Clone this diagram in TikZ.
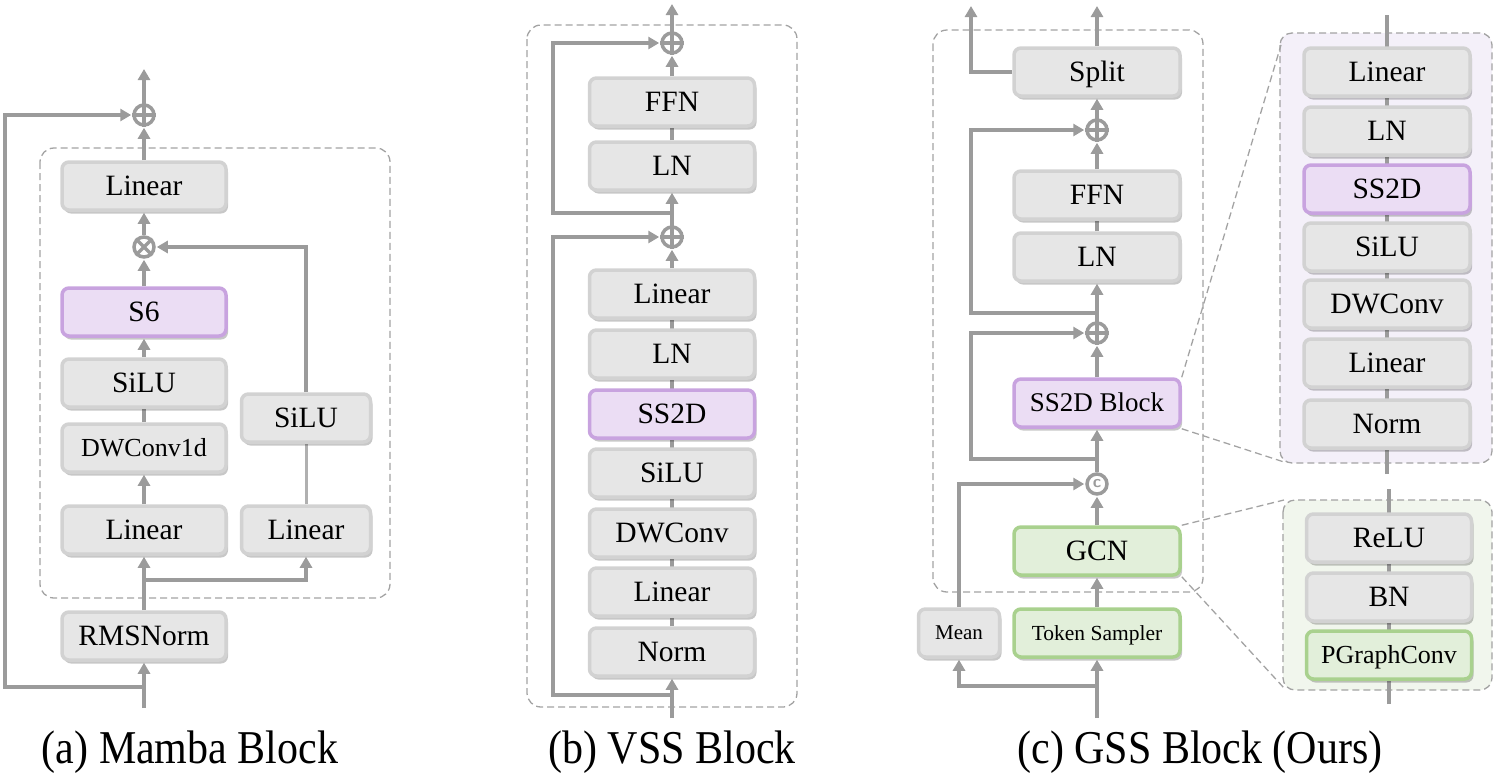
\documentclass[tikz,border=0pt]{standalone}
\usepackage{fontspec}
\setmainfont{Liberation Serif}
\usetikzlibrary{arrows.meta,shadows,calc}
\definecolor{boxfill}{HTML}{E6E6E6}
\definecolor{boxedge}{HTML}{D2D2D2}
\definecolor{purfill}{HTML}{EBDDF4}
\definecolor{puredge}{HTML}{C8A3DF}
\definecolor{grnfill}{HTML}{E2EFDA}
\definecolor{grnedge}{HTML}{A9D18E}
\definecolor{arrowc}{HTML}{9B9B9B}
\definecolor{arrowlt}{HTML}{B0B0B0}
\definecolor{dashc}{HTML}{A3A3A3}
\definecolor{purpanel}{HTML}{F4F0F9}
\definecolor{grnpanel}{HTML}{F1F6ED}
\pgfdeclarelayer{panel}
\pgfdeclarelayer{back}
\pgfsetlayers{panel,back,main}
\begin{document}
\begin{tikzpicture}[x=1pt,y=-1pt,
  blk/.style={draw=boxedge, fill=boxfill, line width=3.5pt, rounded corners=7pt,
    minimum width=164pt, minimum height=48pt, inner sep=0pt,
    font=\fontsize{29.5}{30}\selectfont, text height=19.5pt, text depth=0pt,
    drop shadow={shadow xshift=2pt,shadow yshift=-3.5pt,fill=black,opacity=0.22}},
  pblk/.style={blk, draw=puredge, fill=purfill},
  gblk/.style={blk, draw=grnedge, fill=grnfill},
  arr/.style={draw=arrowc, line width=4pt, -{Triangle[length=11pt,width=12pt]}, shorten >=1pt},
  ln/.style={draw=arrowc, line width=4pt},
  lnlt/.style={draw=arrowlt, line width=3pt},
  sumc/.style={circle, draw=arrowc, line width=3.5pt, minimum size=20pt, inner sep=0pt, fill=white},
  dbox/.style={draw=dashc, line width=1.3pt, dash pattern=on 7pt off 4pt, rounded corners=14pt},
  zline/.style={draw=dashc, line width=1.3pt, dash pattern=on 7pt off 4pt},
  captxt/.style={anchor=base, font=\fontsize{42}{44}\selectfont, inner sep=0pt}
]
\useasboundingbox (0,0) rectangle (1494,777);

% ================= (a) Mamba Block =================
\node[blk] (aLin2) at (144,186) {Linear};
\node[pblk] (aS6) at (144,312) {S6};
\node[blk] (aSiLU1) at (144,383) {SiLU};
\node[blk, font=\fontsize{26}{28}\selectfont, text height=17.2pt] (aDW) at (144,448) {DWConv1d};
\node[blk] (aLin1) at (144,530) {Linear};
\node[blk, minimum width=129pt] (aSiLU2) at (306,418) {SiLU};
\node[blk, minimum width=129pt] (aLin3) at (306,530) {Linear};
\node[blk] (aRMS) at (144,636) {RMSNorm};
\node[sumc] (aAdd) at (144,115) {};
\node[sumc] (aMul) at (144,247) {};
\coordinate (aOut) at (144,68);
\coordinate (aIn) at (144,708);
\coordinate (aJ) at (144,687);
\coordinate (aL) at (5,0);
\coordinate (aBr) at (144,580);

\begin{pgfonlayer}{panel}
\draw[dbox] (40,148) rectangle (390,598);
\end{pgfonlayer}
\begin{pgfonlayer}{back}
\draw[arr] (aIn) -- (aRMS.south);
\draw[arr] (aJ) -- (aJ -| aL) |- (aAdd.west);
\draw[arr] (aRMS.north) -- (aLin1.south);
\draw[arr] (aBr) -| (aLin3.south);
\draw[arr] (aLin1.north) -- (aDW.south);
\draw[ln] (aDW.north) -- (aSiLU1.south);
\draw[arr] (aSiLU1.north) -- (aS6.south);
\draw[arr] (aS6.north) -- (aMul.south);
\draw[arr] (aMul.north) -- (aLin2.south);
\draw[arr] (aLin2.north) -- (aAdd.south);
\draw[arr] (aAdd.north) -- (aOut);
\draw[lnlt] (aLin3.north) -- (aSiLU2.south);
\draw[arr] (aSiLU2.north) |- (aMul.east);
\end{pgfonlayer}
\draw[ln, line width=3.2pt] (aAdd.north) -- (aAdd.south) (aAdd.west) -- (aAdd.east);
\draw[ln, line width=3.2pt] (aMul.north west) -- (aMul.south east) (aMul.north east) -- (aMul.south west);

\node[captxt] (capA) at (190,763) {\scalebox{1}[1.12]{(a) Mamba Block}};

% ================= (b) VSS Block =================
\node[sumc] (bAdd1) at (672,43) {};
\node[blk, minimum width=165pt] (bFFN) at (672,102) {FFN};
\node[blk, minimum width=165pt] (bLN1) at (672,166) {LN};
\node[sumc] (bAdd2) at (672,237) {};
\node[blk, minimum width=165pt] (bLin2) at (672,294) {Linear};
\node[blk, minimum width=165pt] (bLN2) at (672,354) {LN};
\node[pblk, minimum width=165pt] (bSS) at (672,414) {SS2D};
\node[blk, minimum width=165pt] (bSiLU) at (672,473) {SiLU};
\node[blk, minimum width=165pt] (bDW) at (672,533) {DWConv};
\node[blk, minimum width=165pt] (bLin1) at (672,592) {Linear};
\node[blk, minimum width=165pt] (bNorm) at (672,652) {Norm};
\coordinate (bOut) at (672,3);
\coordinate (bIn) at (672,718);
\coordinate (bJ1) at (672,213);
\coordinate (bJ2) at (672,695);
\coordinate (bL) at (553,0);

\begin{pgfonlayer}{panel}
\draw[dbox] (527,25) rectangle (797,707);
\end{pgfonlayer}
\begin{pgfonlayer}{back}
\draw[arr] (bIn) -- (bNorm.south);
\draw[arr] (bJ2) -- (bJ2 -| bL) |- (bAdd2.west);
\draw[ln] (bNorm.north) -- (bLin2.south);
\draw[arr] (bLin2.north) -- (bAdd2.south);
\draw[arr] (bAdd2.north) -- (bLN1.south);
\draw[arr] (bJ1) -- (bJ1 -| bL) |- (bAdd1.west);
\draw[ln] (bLN1.north) -- (bFFN.south);
\draw[arr] (bFFN.north) -- (bAdd1.south);
\draw[arr] (bAdd1.north) -- (bOut);
\end{pgfonlayer}
\draw[ln, line width=3.2pt] (bAdd1.north) -- (bAdd1.south) (bAdd1.west) -- (bAdd1.east);
\draw[ln, line width=3.2pt] (bAdd2.north) -- (bAdd2.south) (bAdd2.west) -- (bAdd2.east);

\node[captxt] (capB) at (672,763) {\scalebox{1}[1.12]{(b) VSS Block}};

% ================= (c) GSS Block =================
\node[blk, minimum width=166pt] (cSplit) at (1097,72) {Split};
\node[sumc] (cAdd1) at (1097,130) {};
\node[blk, minimum width=166pt] (cFFN) at (1097,195) {FFN};
\node[blk, minimum width=166pt] (cLN) at (1097,257) {LN};
\node[sumc] (cAdd2) at (1097,333) {};
\node[pblk, minimum width=166pt, font=\fontsize{27}{28}\selectfont, text height=17.9pt] (cSSB) at (1097,403) {SS2D Block};
\node[sumc, text=arrowc, font=\sffamily\bfseries\fontsize{17}{17}\selectfont] (cCat) at (1097,484) {c};
\node[gblk, minimum width=166pt] (cGCN) at (1097,551) {GCN};
\node[gblk, minimum width=166pt, font=\fontsize{21.5}{22}\selectfont, text height=14.2pt] (cTS) at (1097,633) {Token Sampler};
\node[blk, minimum width=81pt, font=\fontsize{21}{22}\selectfont, text height=13.9pt] (cMean) at (959,633) {Mean};
\coordinate (cOut1) at (1097,5);
\coordinate (cOut2) at (971,5);
\coordinate (cJ1) at (1097,313);
\coordinate (cJ2) at (1097,459);
\coordinate (cJ3) at (1097,686);
\coordinate (cIn) at (1097,718);
\coordinate (cL) at (971,0);

% ---- expanded panels ----
\node[blk, minimum width=166pt] (dLin2) at (1387,72) {Linear};
\node[blk, minimum width=166pt] (dLN) at (1387,131) {LN};
\node[pblk, minimum width=166pt] (dSS) at (1387,189) {SS2D};
\node[blk, minimum width=166pt] (dSiLU) at (1387,247) {SiLU};
\node[blk, minimum width=166pt] (dDW) at (1387,304) {DWConv};
\node[blk, minimum width=166pt] (dLin1) at (1387,363) {Linear};
\node[blk, minimum width=166pt] (dNorm) at (1387,424) {Norm};
\coordinate (dTop) at (1387,15);
\coordinate (dBot) at (1387,474);

\node[blk, minimum width=165pt] (eReLU) at (1389,538) {ReLU};
\node[blk, minimum width=165pt] (eBN) at (1389,597) {BN};
\node[gblk, minimum width=165pt, font=\fontsize{26}{28}\selectfont, text height=17.2pt] (ePG) at (1389,655) {PGraphConv};
\coordinate (eTop) at (1389,489);
\coordinate (eBot) at (1389,704);

\coordinate (pTL) at (1281,45);
\coordinate (pBL) at (1284,462);
\coordinate (gTL) at (1284,500);
\coordinate (gBL) at (1284,688);

\begin{pgfonlayer}{panel}
\draw[dbox] (933,30) rectangle (1203,592);
\draw[dbox, fill=purpanel, rounded corners=12pt] (1280,33) rectangle (1492,463);
\draw[dbox, fill=grnpanel, rounded corners=12pt] (1283,500) rectangle (1492,690);
\draw[zline] (cSSB.north east) -- (pTL);
\draw[zline] (cSSB.south east) -- (pBL);
\draw[zline] (cGCN.north east) -- (gTL);
\draw[zline] (cGCN.south east) -- (gBL);
\end{pgfonlayer}
\begin{pgfonlayer}{back}
\draw[arr] (cIn) -- (cTS.south);
\draw[arr] (cJ3) -| (cMean.south);
\draw[arr] (cTS.north) -- (cGCN.south);
\draw[arr] (cGCN.north) -- (cCat.south);
\draw[arr] (cMean.north) |- (cCat.west);
\draw[arr] (cCat.north) -- (cSSB.south);
\draw[arr] (cJ2) -- (cJ2 -| cL) |- (cAdd2.west);
\draw[arr] (cSSB.north) -- (cAdd2.south);
\draw[arr] (cAdd2.north) -- (cLN.south);
\draw[ln] (cLN.north) -- (cFFN.south);
\draw[arr] (cFFN.north) -- (cAdd1.south);
\draw[arr] (cJ1) -- (cJ1 -| cL) |- (cAdd1.west);
\draw[arr] (cAdd1.north) -- (cSplit.south);
\draw[arr] (cSplit.north) -- (cOut1);
\draw[arr] (cSplit.west) -| (cOut2);
\draw[ln] (dBot) -- (dTop);
\draw[ln] (eBot) -- (eTop);
\end{pgfonlayer}
\draw[ln, line width=3.2pt] (cAdd1.north) -- (cAdd1.south) (cAdd1.west) -- (cAdd1.east);
\draw[ln, line width=3.2pt] (cAdd2.north) -- (cAdd2.south) (cAdd2.west) -- (cAdd2.east);

\node[captxt] (capC) at (1200,763) {\scalebox{1}[1.12]{(c) GSS Block (Ours)}};
\end{tikzpicture}
\end{document}
